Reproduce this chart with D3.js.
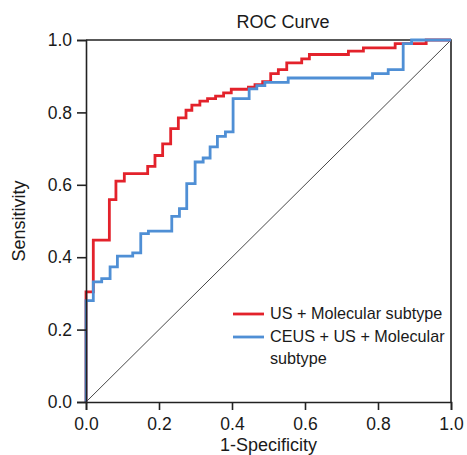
<!DOCTYPE html>
<html lang="en">
<head>
  <meta charset="UTF-8">
  <title>ROC Curve</title>
  <script src="https://d3js.org/d3.v7.min.js"></script>
  <style>
    body { margin: 0; background: #fff; }
    svg { display: block; }
    text { font-family: "Liberation Sans", Arial, sans-serif; fill: #1a1a1a; }
  </style>
</head>
<body>
  <svg width="467" height="455"></svg>

  <script>
    // step corners of each ROC curve (fpr, tpr)
    const usFpr = [0, 0, 0.02, 0.064, 0.082, 0.105, 0.169, 0.189, 0.21, 0.232, 0.253, 0.274, 0.29, 0.312, 0.333, 0.355, 0.377, 0.398, 0.445, 0.463, 0.484, 0.506, 0.527, 0.55, 0.591, 0.612, 0.719, 0.76, 0.847, 0.932, 1];
    const usTpr = [0, 0.304, 0.447, 0.559, 0.61, 0.631, 0.651, 0.681, 0.713, 0.755, 0.785, 0.806, 0.82, 0.831, 0.838, 0.845, 0.854, 0.864, 0.87, 0.877, 0.885, 0.907, 0.918, 0.937, 0.948, 0.96, 0.969, 0.978, 0.99, 1, 1];

    const ceusFpr = [0, 0, 0.02, 0.043, 0.066, 0.086, 0.128, 0.15, 0.171, 0.235, 0.256, 0.276, 0.299, 0.321, 0.34, 0.36, 0.382, 0.403, 0.447, 0.468, 0.49, 0.554, 0.785, 0.828, 0.869, 0.892, 1];
    const ceusTpr = [0, 0.28, 0.332, 0.341, 0.373, 0.403, 0.412, 0.465, 0.472, 0.513, 0.534, 0.603, 0.663, 0.674, 0.705, 0.734, 0.746, 0.838, 0.865, 0.874, 0.883, 0.895, 0.907, 0.918, 0.99, 1, 1];

    const ticks = [0, 0.2, 0.4, 0.6, 0.8, 1.0];
    const seriesNames = [`US + Molecular subtype`, `CEUS + US + Molecular subtype`];
    const colors = [`#e3222b`, `#4f8fd5`];

    const margin = {top: 40, left: 86, right: 16, bottom: 53};
    const width = 467;
    const height = 455;

    const x = d3.scaleLinear().domain([0, 1]).range([margin.left, width - margin.right]);
    const y = d3.scaleLinear().domain([0, 1]).range([height - margin.bottom, margin.top]);

    const svg = d3.select(`svg`);

    // frame (top and right)
    svg.append(`path`)
      .attr(`d`, `M${x(0)},${y(1)}H${x(1)}V${y(0)}`)
      .attr(`fill`, `none`)
      .attr(`stroke`, `#222`)
      .attr(`stroke-width`, 1.6);

    // reference diagonal
    svg.append(`line`)
      .attr(`x1`, x(0)).attr(`y1`, y(0))
      .attr(`x2`, x(1)).attr(`y2`, y(1))
      .attr(`stroke`, `#333`)
      .attr(`stroke-width`, 0.9);

    const line = d3.line()
      .x(d => x(d[0]))
      .y(d => y(d[1]))
      .curve(d3.curveStepAfter);

    const curves = [
      d3.zip(usFpr, usTpr),
      d3.zip(ceusFpr, ceusTpr),
    ];

    curves.forEach((pts, i) => {
      svg.append(`path`)
        .datum(pts)
        .attr(`d`, line)
        .attr(`fill`, `none`)
        .attr(`stroke`, colors[i])
        .attr(`stroke-width`, 2.8)
        .attr(`stroke-linejoin`, `miter`);
    });

    const fmt = d3.format(`.1f`);

    const xAxis = svg.append(`g`)
      .attr(`transform`, `translate(0, ${y(0)})`)
      .call(d3.axisBottom(x).tickValues(ticks).tickFormat(fmt).tickSize(8).tickPadding(8));

    const yAxis = svg.append(`g`)
      .attr(`transform`, `translate(${x(0)}, 0)`)
      .call(d3.axisLeft(y).tickValues(ticks).tickFormat(fmt).tickSize(9).tickPadding(5));

    [xAxis, yAxis].forEach(g => {
      g.select(`.domain`).attr(`stroke`, `#222`).attr(`stroke-width`, 1.6);
      g.selectAll(`.tick line`).attr(`stroke`, `#222`).attr(`stroke-width`, 1.6);
      g.selectAll(`.tick text`)
        .style(`font-family`, `"Liberation Sans", Arial, sans-serif`)
        .style(`font-size`, `17.5px`)
        .attr(`fill`, `#1a1a1a`);
    });

    svg.append(`text`)
      .attr(`x`, 283)
      .attr(`y`, 28)
      .attr(`text-anchor`, `middle`)
      .style(`font-size`, `18px`)
      .text(`ROC Curve`);

    svg.append(`text`)
      .attr(`x`, (x(0) + x(1)) / 2)
      .attr(`y`, 451)
      .attr(`text-anchor`, `middle`)
      .style(`font-size`, `18px`)
      .text(`1-Specificity`);

    svg.append(`text`)
      .attr(`transform`, `translate(25, ${(y(0) + y(1)) / 2}) rotate(-90)`)
      .attr(`text-anchor`, `middle`)
      .style(`font-size`, `18px`)
      .text(`Sensitivity`);

    // legend
    const legend = svg.append(`g`);
    const legendRows = [[seriesNames[0]], [`CEUS + US + Molecular`, `subtype`]];
    const legendY = [314, 337];
    legendRows.forEach((rows, i) => {
      legend.append(`line`)
        .attr(`x1`, 233).attr(`x2`, 264)
        .attr(`y1`, legendY[i]).attr(`y2`, legendY[i])
        .attr(`stroke`, colors[i])
        .attr(`stroke-width`, 2.8);
      rows.forEach((r, j) => {
        legend.append(`text`)
          .attr(`x`, 270)
          .attr(`y`, legendY[i] + 5 + j * 21.5)
          .style(`font-size`, `16.2px`)
          .text(r);
      });
    });
  </script>
</body>
</html>
